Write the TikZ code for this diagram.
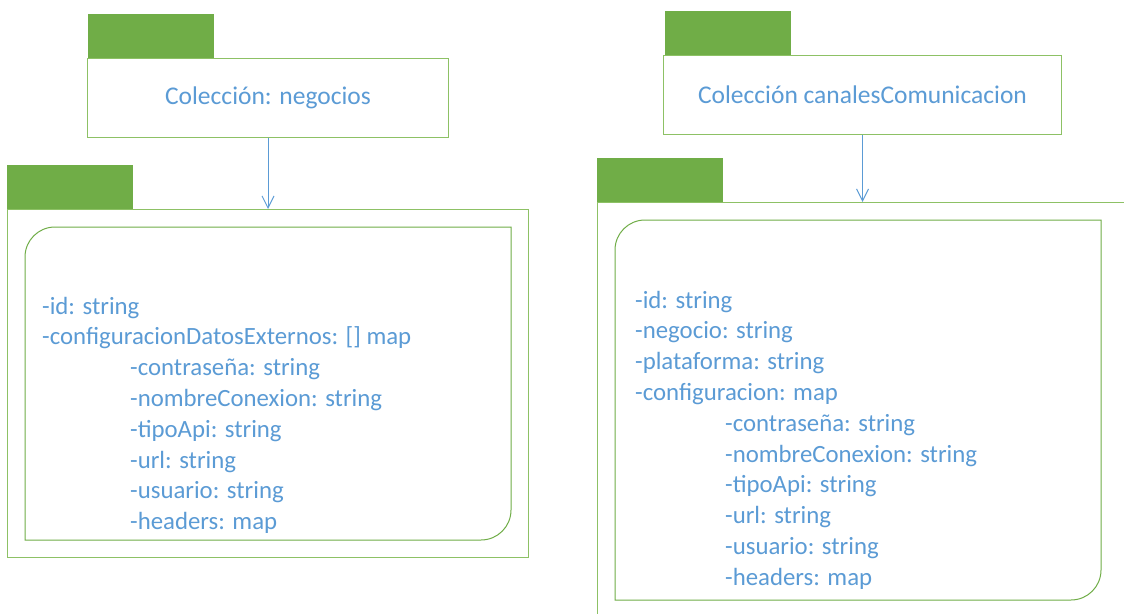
\documentclass[tikz,border=0pt]{standalone}
\usepackage{fontspec}
\setmainfont{Carlito}
\usetikzlibrary{arrows.meta}
\definecolor{pkggreen}{HTML}{70AD47}
\definecolor{pkgline}{HTML}{8DC165}
\definecolor{txtblue}{HTML}{5B9BD5}
\tikzset{
  tab/.style={fill=pkggreen, draw=none, anchor=north west, inner sep=0,
              minimum width=126pt, minimum height=44pt},
  pkgbox/.style={draw=pkgline, line width=1pt, fill=white, anchor=north west, inner sep=0},
  title/.style={text=txtblue, font=\fontsize{25.5}{30}\selectfont},
  attr/.style={text=txtblue, font=\fontsize{24.8}{30}\selectfont, anchor=base west, inner sep=0},
  link/.style={draw=txtblue, line width=1pt, -{Straight Barb[length=12pt,width=12pt]}},
  body/.style={draw=pkggreen, line width=1pt}
}
\begin{document}
\begin{tikzpicture}[x=1pt,y=-1pt]
\useasboundingbox (0,0) rectangle (1124,613);
\clip (0,0) rectangle (1124,613);

% ---- collection "negocios" ----
\node[tab] (tabA) at (88,14) {};
\node[pkgbox, title, minimum width=361pt, minimum height=79pt] (colA) at (87,58) {Colección: negocios};
\node[tab] (tabB) at (7,165) {};
\node[pkgbox, minimum width=521pt, minimum height=348pt] (docA) at (7,209) {};
\draw[body] (25,540) -- (25,257) .. controls (25,240.4) and (38.4,227) .. (55,227)
  -- (511,227) -- (511,510) .. controls (511,526.6) and (497.6,540) .. (481,540) -- cycle;
\draw[link] (colA.south) -- (colA.south |- docA.north);
\foreach \txt/\xx [count=\i] in {
  {-id: string}/42,
  {-configuracionDatosExternos: [] map}/42,
  {-contraseña: string}/130,
  {-nombreConexion: string}/130,
  {-tipoApi: string}/130,
  {-url: string}/130,
  {-usuario: string}/130,
  {-headers: map}/130}
  \node[attr] (a\i) at (\xx, {314+30.8*(\i-1)}) {\txt};

% ---- collection "canalesComunicacion" ----
\node[tab] (tabC) at (665,11) {};
\node[pkgbox, title, minimum width=398pt, minimum height=79pt] (colC) at (663,55) {Colección canalesComunicacion};
\node[tab] (tabD) at (597,158) {};
\node[pkgbox, minimum width=600pt, minimum height=500pt] (docC) at (597,202) {};
\draw[body] (615,600) -- (615,250) .. controls (615,233.4) and (628.4,220) .. (645,220)
  -- (1101,220) -- (1101,570) .. controls (1101,586.6) and (1087.6,600) .. (1071,600) -- cycle;
\draw[link] (colC.south) -- (colC.south |- docC.north);
\foreach \txt/\xx [count=\i] in {
  {-id: string}/635,
  {-negocio: string}/635,
  {-plataforma: string}/635,
  {-configuracion: map}/635,
  {-contraseña: string}/725,
  {-nombreConexion: string}/725,
  {-tipoApi: string}/725,
  {-url: string}/725,
  {-usuario: string}/725,
  {-headers: map}/725}
  \node[attr] (c\i) at (\xx, {308+30.8*(\i-1)}) {\txt};
\end{tikzpicture}
\end{document}
